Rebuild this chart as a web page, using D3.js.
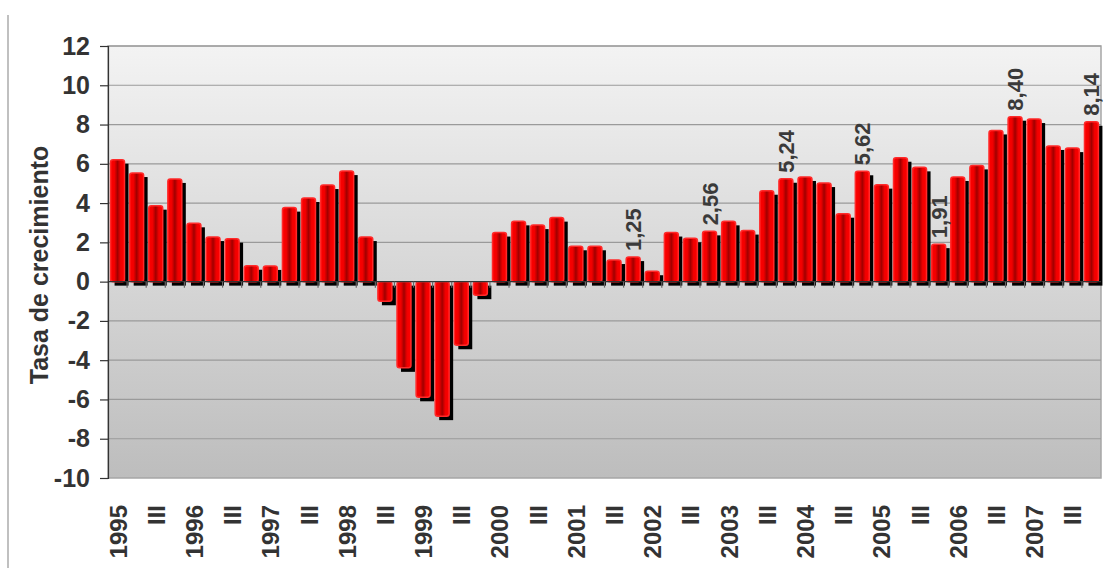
<!DOCTYPE html>
<html>
<head>
<meta charset="utf-8">
<script src="https://cdn.jsdelivr.net/npm/d3@7/dist/d3.min.js"></script>
<style>
  body { margin: 0; background: #fff; }
  text { font-family: "Liberation Sans", Arial, sans-serif; }
</style>
</head>
<body>
<div id="vis"></div>
<script>
// Quarterly growth rate, 1995 Q1 .. 2007 Q4
var years = ['1995', '1996', '1997', '1998', '1999', '2000', '2001',
             '2002', '2003', '2004', '2005', '2006', '2007'];
var quarters = ['I', 'II', 'III', 'IV'];

var values = [
    6.21, 5.53, 3.87, 5.23,     // 1995
    2.97, 2.27, 2.19, 0.81,     // 1996
    0.80, 3.77, 4.26, 4.92,     // 1997
    5.63, 2.27, -1.00, -4.39,   // 1998
    -5.89, -6.85, -3.24, -0.69, // 1999
    2.50, 3.07, 2.88, 3.26,     // 2000
    1.80, 1.80, 1.10, 1.25,     // 2001
    0.53, 2.50, 2.21, 2.56,     // 2002
    3.07, 2.60, 4.63, 5.24,     // 2003
    5.33, 5.02, 3.46, 5.62,     // 2004
    4.94, 6.31, 5.82, 1.91,     // 2005
    5.33, 5.92, 7.70, 8.40,     // 2006
    8.28, 6.91, 6.80, 8.14      // 2007
];

// quarters that carry a value label (all Q4 from 2001 on)
var labelled = [27, 31, 35, 39, 43, 47, 51];

var yTicks = [-10, -8, -6, -4, -2, 0, 2, 4, 6, 8, 10, 12];

var categories = [];
years.forEach(function(y) {
    quarters.forEach(function(q) { categories.push(y + '-' + q); });
});

var width = 1116, height = 570;
var margin = { top: 46, right: 15, bottom: 92, left: 108 };
var drawWidth = width - margin.left - margin.right;
var drawHeight = height - margin.top - margin.bottom;

var svg = d3.select('#vis').append('svg')
    .attr('width', width)
    .attr('height', height);

var defs = svg.append('defs');
var bg = defs.append('linearGradient').attr('id', 'bg')
    .attr('x1', 0).attr('y1', 0).attr('x2', 0).attr('y2', 1);
bg.append('stop').attr('offset', '0%').attr('stop-color', '#f3f3f3');
bg.append('stop').attr('offset', '100%').attr('stop-color', '#bdbdbd');

var barGrad = defs.append('linearGradient').attr('id', 'bar')
    .attr('x1', 0).attr('y1', 0).attr('x2', 1).attr('y2', 0);
barGrad.append('stop').attr('offset', '0%').attr('stop-color', '#ff0000');
barGrad.append('stop').attr('offset', '28%').attr('stop-color', '#f00000');
barGrad.append('stop').attr('offset', '50%').attr('stop-color', '#a00000');
barGrad.append('stop').attr('offset', '72%').attr('stop-color', '#f00000');
barGrad.append('stop').attr('offset', '100%').attr('stop-color', '#ff0000');

// outer frame line on the left
svg.append('line')
    .attr('x1', 8).attr('x2', 8).attr('y1', 15).attr('y2', 568)
    .attr('stroke', '#c0c0c0').attr('stroke-width', 2);

var g = svg.append('g')
    .attr('transform', `translate(${margin.left},${margin.top})`);

var xScale = d3.scaleBand()
    .domain(categories)
    .range([0, drawWidth])
    .paddingInner(0.27)
    .paddingOuter(0.135);

var yScale = d3.scaleLinear()
    .domain([-10, 12])
    .range([drawHeight, 0]);

// plot background
g.append('rect')
    .attr('width', drawWidth).attr('height', drawHeight)
    .attr('fill', 'url(#bg)')
    .attr('stroke', '#a6a6a6').attr('stroke-width', 1.5);

// gridlines
g.selectAll('.grid').data(yTicks.filter(function(d) { return d !== 0 && d !== -10; }))
    .enter().append('line')
    .attr('x1', 0).attr('x2', drawWidth)
    .attr('y1', function(d) { return yScale(d); })
    .attr('y2', function(d) { return yScale(d); })
    .attr('stroke', '#9a9a9a').attr('stroke-width', 1.2);

var step = xScale.step();
var bw = xScale.bandwidth();

// shadows
g.selectAll('.shadow').data(values).enter().append('rect')
    .attr('x', function(d, i) { return xScale(categories[i]) + 4; })
    .attr('y', function(d) { return Math.min(yScale(d), yScale(0)) + 4; })
    .attr('width', bw)
    .attr('height', function(d) { return Math.abs(yScale(d) - yScale(0)); })
    .attr('fill', '#000');

// red bars
g.selectAll('.bar').data(values).enter().append('rect')
    .attr('x', function(d, i) { return xScale(categories[i]); })
    .attr('y', function(d) { return Math.min(yScale(d), yScale(0)); })
    .attr('width', bw)
    .attr('height', function(d) { return Math.abs(yScale(d) - yScale(0)); })
    .attr('rx', 2.5)
    .attr('fill', 'url(#bar)')
    .attr('stroke', '#ff2a2a').attr('stroke-width', 1.5);

// zero line with category ticks
var xAxis = g.append('g')
    .attr('transform', `translate(0,${yScale(0)})`);
xAxis.append('line')
    .attr('x1', 0).attr('x2', drawWidth)
    .attr('stroke', '#333').attr('stroke-width', 1.2);
xAxis.selectAll('.tk').data(d3.range(1, categories.length)).enter().append('line')
    .attr('x1', function(i) { return xScale(categories[i]) - step * 0.135; })
    .attr('x2', function(i) { return xScale(categories[i]) - step * 0.135; })
    .attr('y1', 0).attr('y2', 6)
    .attr('stroke', '#666').attr('stroke-width', 1.2);

// y axis
var yAxis = g.append('g')
    .call(d3.axisLeft(yScale).tickValues(yTicks).tickSize(8).tickPadding(10)
        .tickFormat(function(d) { return String(d); }));
yAxis.select('.domain').attr('stroke', '#333').attr('stroke-width', 1.2);
yAxis.selectAll('.tick line').attr('stroke', '#333').attr('stroke-width', 1.2);
yAxis.selectAll('.tick text')
    .attr('font-size', 25).attr('font-weight', 'bold').attr('fill', '#333')
    .style('font-family', '"Liberation Sans", Arial, sans-serif');

// category labels below the plot
g.selectAll('.xlab').data(categories).enter()
    .filter(function(c) { return /-I$/.test(c) || /-III$/.test(c); })
    .append('text')
    .attr('transform', function(c) {
        var x = xScale(c) + bw / 2 + 9;
        return `translate(${x},${drawHeight + 27}) rotate(-90)`;
    })
    .attr('text-anchor', 'end')
    .attr('font-size', 24).attr('font-weight', 'bold').attr('fill', '#333')
    .text(function(c) { return /-III$/.test(c) ? 'III' : c.split('-')[0]; });

// value labels
g.selectAll('.vlab').data(labelled).enter().append('text')
    .attr('transform', function(i) {
        var x = xScale(categories[i]) + bw / 2 + 8;
        return `translate(${x},${yScale(values[i]) - 6}) rotate(-90)`;
    })
    .attr('font-size', 22).attr('font-weight', 'bold').attr('fill', '#3a3a3a')
    .text(function(i) { return values[i].toFixed(2).replace('.', ','); });

// y axis title
svg.append('text')
    .attr('transform', 'translate(48,265) rotate(-90)')
    .attr('text-anchor', 'middle')
    .attr('font-size', 25).attr('font-weight', 'bold').attr('fill', '#333')
    .text('Tasa de crecimiento');
</script>
</body>
</html>
